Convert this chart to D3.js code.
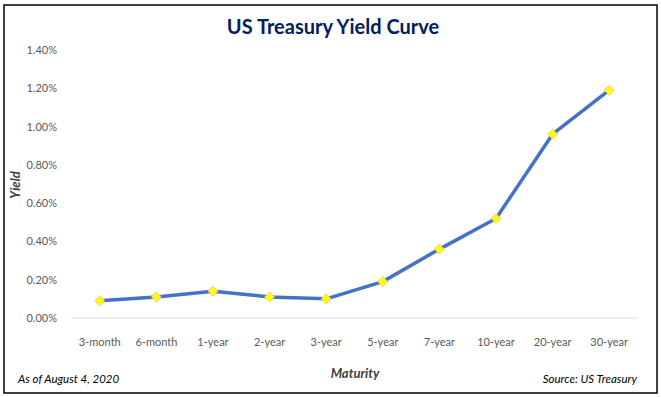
<!DOCTYPE html>
<html>
<head>
<meta charset="utf-8">
<script src="https://cdn.jsdelivr.net/npm/d3@7"></script>
<style>
  body { margin: 0; background: #fff; }
  svg { display: block; font-family: Lato, "Open Sans", sans-serif; }
</style>
</head>
<body>
<svg id="chart" width="661" height="397"></svg>
<script>
var maturities = ["3-month", "6-month", "1-year", "2-year", "3-year", "5-year", "7-year", "10-year", "20-year", "30-year"];
var yields = [0.09, 0.11, 0.14, 0.11, 0.10, 0.19, 0.36, 0.52, 0.96, 1.19];
var yTicks = [0, 0.2, 0.4, 0.6, 0.8, 1.0, 1.2, 1.4];

var svg = d3.select("#chart");

// outer border
svg.append("rect")
  .attr("x", 4).attr("y", 5)
  .attr("width", 653).attr("height", 388)
  .attr("fill", "none")
  .attr("stroke", "#000")
  .attr("stroke-width", 1.5);

var x = d3.scaleBand().domain(maturities).range([71.5, 637.5]);
var y = d3.scaleLinear().domain([0, 1.4]).range([318, 50]);

// y tick labels
svg.append("g").selectAll("text")
  .data(yTicks)
  .enter()
  .append("text")
  .attr("x", 57)
  .attr("y", function (d) { return y(d) + 4; })
  .attr("text-anchor", "end")
  .attr("font-size", "11px")
  .attr("fill", "#595959")
  .text(function (d) { return d.toFixed(2) + "%"; });

// baseline
svg.append("line")
  .attr("x1", 71.5).attr("x2", 637.5)
  .attr("y1", y(0)).attr("y2", y(0))
  .attr("stroke", "#d9d9d9")
  .attr("stroke-width", 1);

// x labels
svg.append("g").selectAll("text")
  .data(maturities)
  .enter()
  .append("text")
  .attr("x", function (d) { return x(d) + x.bandwidth() / 2; })
  .attr("y", 346)
  .attr("text-anchor", "middle")
  .attr("font-size", "11px")
  .attr("fill", "#595959")
  .text(function (d) { return d; });

var line = d3.line()
  .x(function (d, i) { return x(maturities[i]) + x.bandwidth() / 2; })
  .y(function (d) { return y(d); });

svg.append("path")
  .datum(yields)
  .attr("d", line)
  .attr("fill", "none")
  .attr("stroke", "#4472C4")
  .attr("stroke-width", 3.5)
  .attr("stroke-linejoin", "round");

svg.append("g").selectAll("path")
  .data(yields)
  .enter()
  .append("path")
  .attr("d", d3.symbol().type(d3.symbolDiamond2).size(64))
  .attr("transform", function (d, i) {
    return "translate(" + (x(maturities[i]) + x.bandwidth() / 2) + "," + y(d) + ")";
  })
  .attr("fill", "#FFFF00")
  .attr("stroke", "#F4B183")
  .attr("stroke-width", 0.75);

// titles
svg.append("text")
  .attr("x", 333).attr("y", 34)
  .attr("text-anchor", "middle")
  .attr("font-size", "20px")
  .attr("font-weight", "bold")
  .attr("fill", "#002060")
  .text("US Treasury Yield Curve");

svg.append("text")
  .attr("transform", "translate(20,185) rotate(-90)")
  .attr("text-anchor", "middle")
  .attr("font-size", "13px")
  .attr("font-weight", "bold")
  .attr("font-style", "italic")
  .attr("fill", "#404040")
  .text("Yield");

svg.append("text")
  .attr("x", 355).attr("y", 378)
  .attr("text-anchor", "middle")
  .attr("font-size", "13px")
  .attr("font-weight", "bold")
  .attr("font-style", "italic")
  .attr("fill", "#404040")
  .text("Maturity");

svg.append("text")
  .attr("x", 18).attr("y", 383)
  .attr("font-size", "11.5px")
  .attr("font-style", "italic")
  .attr("fill", "#000")
  .text("As of August 4, 2020");

svg.append("text")
  .attr("x", 637).attr("y", 383)
  .attr("text-anchor", "end")
  .attr("font-size", "11.5px")
  .attr("font-style", "italic")
  .attr("fill", "#000")
  .text("Source: US Treasury");
</script>
</body>
</html>
